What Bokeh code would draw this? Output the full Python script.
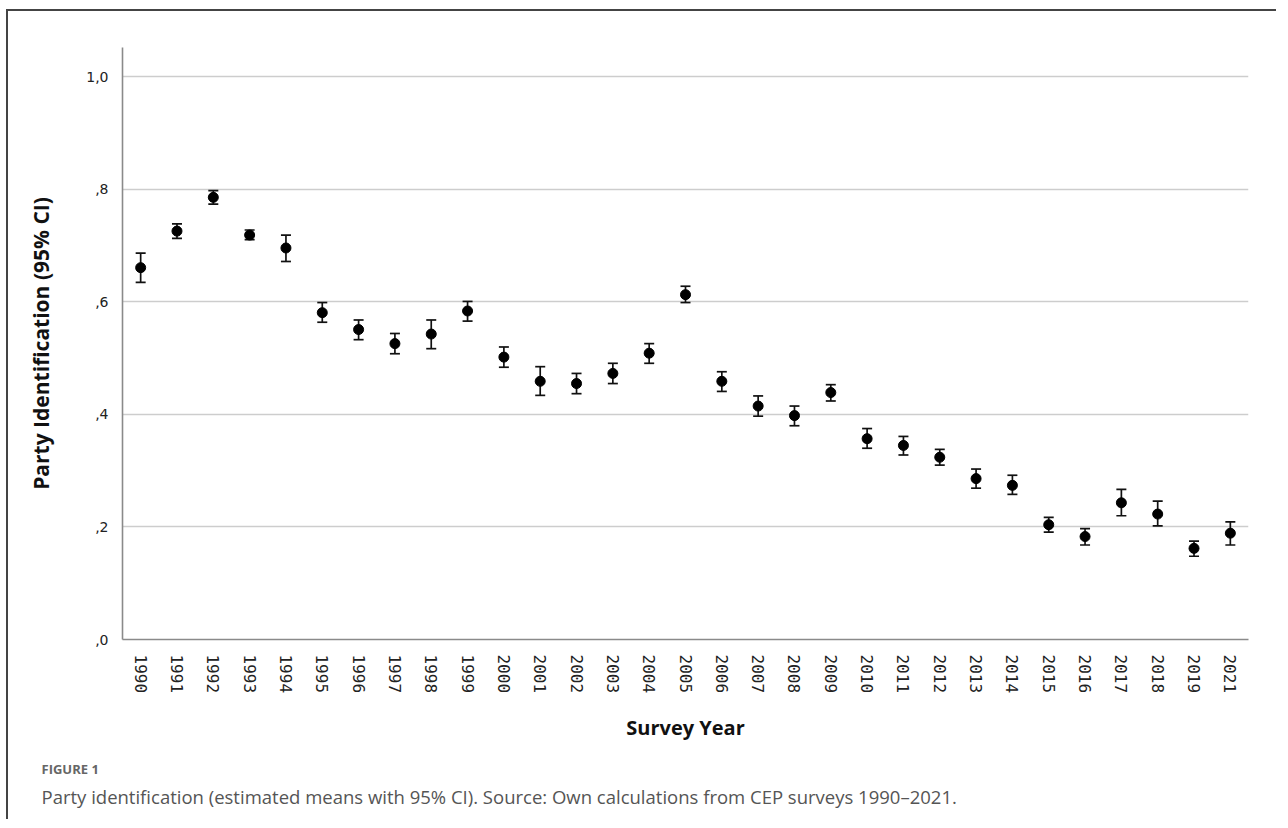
import math
from bokeh.plotting import figure
from bokeh.models import ColumnDataSource, Whisker, TeeHead, FactorRange, Range1d, FixedTicker, Title
from bokeh.embed import file_html
from bokeh.resources import INLINE

# ---- data ----
years = ["1990", "1991", "1992", "1993", "1994", "1995", "1996", "1997", "1998", "1999",
         "2000", "2001", "2002", "2003", "2004", "2005", "2006", "2007", "2008", "2009",
         "2010", "2011", "2012", "2013", "2014", "2015", "2016", "2017", "2018", "2019",
         "2021"]
means = [0.661, 0.726, 0.786, 0.719, 0.696, 0.581, 0.551, 0.526, 0.543, 0.584,
         0.502, 0.459, 0.455, 0.473, 0.509, 0.613, 0.459, 0.415, 0.398, 0.439,
         0.357, 0.345, 0.324, 0.286, 0.274, 0.204, 0.183, 0.243, 0.223, 0.162,
         0.189]
lower = [0.635, 0.713, 0.774, 0.711, 0.672, 0.564, 0.533, 0.508, 0.517, 0.566,
         0.484, 0.434, 0.437, 0.455, 0.491, 0.599, 0.441, 0.397, 0.380, 0.424,
         0.340, 0.328, 0.310, 0.269, 0.258, 0.191, 0.168, 0.220, 0.202, 0.148,
         0.168]
upper = [0.687, 0.739, 0.798, 0.728, 0.719, 0.599, 0.568, 0.544, 0.568, 0.601,
         0.520, 0.485, 0.473, 0.491, 0.526, 0.628, 0.476, 0.433, 0.415, 0.453,
         0.375, 0.361, 0.338, 0.303, 0.292, 0.217, 0.197, 0.267, 0.246, 0.175,
         0.209]
y_tick_values = [0.0, 0.2, 0.4, 0.6, 0.8, 1.0]
y_tick_labels = [",0", ",2", ",4", ",6", ",8", "1,0"]

x_title = "Survey Year"
y_title = "Party Identification (95% CI)"
fig_label = "FIGURE 1"
caption = ("Party identification (estimated means with 95% CI). "
           "Source: Own calculations from CEP surveys 1990\u20132021.")

src = ColumnDataSource(dict(x=years, mean=means, lower=lower, upper=upper))

p = figure(x_range=FactorRange(factors=years, range_padding=0),
           y_range=Range1d(0, 1.0524),
           width=1270, height=810,
           output_backend="svg", toolbar_location=None,
           min_border_left=114, min_border_right=30,
           min_border_top=36, min_border_bottom=182,
           outline_line_color=None, background_fill_color="white",
           border_fill_color="white")
p.styles = {"border-top": "2px solid #444444", "border-left": "2px solid #444444",
            "margin-top": "9px", "margin-left": "6px"}

# grid
p.xgrid.grid_line_color = None
p.ygrid.ticker = FixedTicker(ticks=y_tick_values)
p.ygrid.grid_line_color = "#cdcdcd"
p.ygrid.grid_line_width = 1.6

# y axis
p.yaxis.ticker = FixedTicker(ticks=y_tick_values)
p.yaxis.major_label_overrides = {v: l for v, l in zip(y_tick_values, y_tick_labels)}
p.yaxis.major_tick_line_color = None
p.yaxis.minor_tick_line_color = None
p.yaxis.axis_line_color = "#8a8a8a"
p.yaxis.axis_line_width = 1.6
p.yaxis.major_label_text_font = "DejaVu Sans"
p.yaxis.major_label_text_font_size = "14px"
p.yaxis.major_label_text_color = "#222222"
p.yaxis.major_label_standoff = 8
p.yaxis.axis_label = y_title
p.yaxis.axis_label_text_font = "Open Sans"
p.yaxis.axis_label_text_font_style = "bold"
p.yaxis.axis_label_text_font_size = "21px"
p.yaxis.axis_label_text_color = "#111111"
p.yaxis.axis_label_standoff = 28

# x axis
p.xaxis.major_tick_line_color = None
p.xaxis.minor_tick_line_color = None
p.xaxis.axis_line_color = "#8a8a8a"
p.xaxis.axis_line_width = 1.6
p.xaxis.major_label_orientation = -math.pi / 2
p.xaxis.major_label_text_font = "DejaVu Sans Mono"
p.xaxis.major_label_text_font_size = "16px"
p.xaxis.major_label_text_color = "#222222"
p.xaxis.major_label_standoff = 9
p.xaxis.axis_label = x_title
p.xaxis.axis_label_text_font = "Open Sans"
p.xaxis.axis_label_text_font_style = "bold"
p.xaxis.axis_label_text_font_size = "20px"
p.xaxis.axis_label_text_color = "#111111"
p.xaxis.axis_label_standoff = 18

# error bars and means
head_u = TeeHead(size=10, line_color="#111111", line_width=1.7)
head_l = TeeHead(size=10, line_color="#111111", line_width=1.7)
p.add_layout(Whisker(base="x", upper="upper", lower="lower", source=src,
                     line_color="#111111", line_width=1.7,
                     upper_head=head_u, lower_head=head_l))
p.scatter("x", "mean", source=src, size=10, fill_color="black", line_color="black")

# caption
t1 = Title(text=fig_label, align="left", offset=-81, standoff=26,
           text_font="Open Sans", text_font_style="bold", text_font_size="13px",
           text_color="#666666")
t2 = Title(text=caption, align="left", offset=-81, standoff=-18,
           text_font="Open Sans", text_font_style="normal", text_font_size="18.5px",
           text_color="#555555")
p.add_layout(t1, "below")
p.add_layout(t2, "below")

open("out.html", "w").write(file_html(p, INLINE))
